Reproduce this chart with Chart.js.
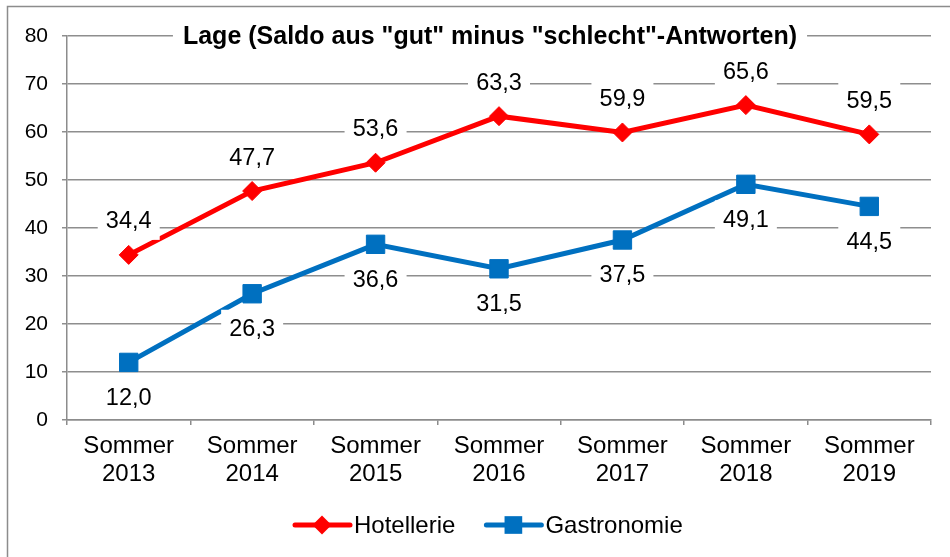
<!DOCTYPE html>
<html><head><meta charset="utf-8">
<script src="https://cdn.jsdelivr.net/npm/chart.js@4.4.0/dist/chart.umd.min.js"></script>
<style>html,body{margin:0;padding:0;background:#fff}#wrap{width:950px;height:557px;position:relative}</style>
</head><body><div id="wrap"><canvas id="c" width="950" height="557"></canvas></div>
<script>
const categories = [["Sommer","2013"],["Sommer","2014"],["Sommer","2015"],["Sommer","2016"],["Sommer","2017"],["Sommer","2018"],["Sommer","2019"]];
const hotellerie = [34.4, 47.7, 53.6, 63.3, 59.9, 65.6, 59.5];
const gastronomie = [12.0, 26.3, 36.6, 31.5, 37.5, 49.1, 44.5];
const seriesNames = ["Hotellerie", "Gastronomie"];
const titleText = 'Lage (Saldo aus "gut" minus "schlecht"-Antworten)';
const yMin = 0, yMax = 80, yStep = 10;

const FONT = '"Liberation Sans", Arial, sans-serif';
const RED = '#ff0000', BLUE = '#0070c0';

function marker(ctx, style, x, y, r, color){
  ctx.save();
  ctx.fillStyle = color;
  ctx.beginPath();
  if (style === 'rectRot') {
    ctx.moveTo(x - r, y); ctx.lineTo(x, y - r); ctx.lineTo(x + r, y); ctx.lineTo(x, y + r);
  } else {
    const s = r * Math.SQRT1_2;
    ctx.rect(x - s, y - s, 2 * s, 2 * s);
  }
  ctx.closePath(); ctx.fill();
  ctx.restore();
}

const decor = {
  id: 'decor',
  beforeDraw(chart){
    const ctx = chart.ctx;
    ctx.save();
    ctx.fillStyle = '#fff'; ctx.fillRect(0, 0, chart.width, chart.height);
    ctx.strokeStyle = '#8c8c8c'; ctx.lineWidth = 1.5;
    ctx.beginPath(); ctx.moveTo(7.5, chart.height + 5); ctx.lineTo(7.5, 6.5); ctx.lineTo(chart.width + 5, 6.5); ctx.stroke();
    ctx.restore();
  },
  afterDatasetsDraw(chart){
    const ctx = chart.ctx;
    chart.data.datasets.forEach((ds, di) => {
      const meta = chart.getDatasetMeta(di);
      meta.data.forEach((pt, i) => {
        const txt = ds.data[i].toFixed(1).replace('.', ',');
        const y = pt.y + (di === 0 ? -34 : 35);
        ctx.save();
        ctx.font = '23.5px ' + FONT;
        ctx.fillStyle = '#fff'; ctx.fillRect(pt.x - 31, y - 19, 62, 38);
        ctx.fillStyle = '#000'; ctx.textAlign = 'center'; ctx.textBaseline = 'middle';
        ctx.fillText(txt, pt.x, y + 1);
        ctx.restore();
      });
    });
    const a = chart.chartArea;
    ctx.save();
    ctx.font = 'bold 25px ' + FONT;
    const w = ctx.measureText(titleText).width;
    const cx = (a.left + a.right) / 2 - 9;
    ctx.fillStyle = '#fff'; ctx.fillRect(cx - w / 2 - 10, a.top - 14, w + 20, 28);
    ctx.fillStyle = '#000'; ctx.textAlign = 'center'; ctx.textBaseline = 'middle';
    ctx.fillText(titleText, cx, a.top + 1);
    ctx.restore();
  },
  afterDraw(chart){
    const ctx = chart.ctx;
    ctx.save();
    ctx.font = '24px ' + FONT;
    let x = 295; const y = 525;
    chart.data.datasets.forEach(ds => {
      ctx.strokeStyle = ds.borderColor; ctx.lineWidth = 5; ctx.lineCap = 'round';
      ctx.beginPath(); ctx.moveTo(x, y); ctx.lineTo(x + 55, y); ctx.stroke();
      marker(ctx, ds.pointStyle, x + 27, y, ds.pointStyle === 'rect' ? 12.5 : 9.5, ds.borderColor);
      ctx.fillStyle = '#000'; ctx.textAlign = 'left'; ctx.textBaseline = 'middle';
      ctx.fillText(ds.label, x + 59, y + 1);
      x += 59 + ctx.measureText(ds.label).width + 31;
    });
    ctx.restore();
  }
};

new Chart(document.getElementById('c'), {
  type: 'line',
  data: {
    labels: categories,
    datasets: [
      { label: seriesNames[0], data: hotellerie, borderColor: RED, backgroundColor: RED,
        borderWidth: 5, pointStyle: 'rectRot', pointRadius: 9.5, pointHoverRadius: 9.5,
        pointBorderWidth: 1, pointBorderColor: RED, pointBackgroundColor: RED, tension: 0 },
      { label: seriesNames[1], data: gastronomie, borderColor: BLUE, backgroundColor: BLUE,
        borderWidth: 5, pointStyle: 'rect', pointRadius: 13, pointHoverRadius: 13,
        pointBorderWidth: 1, pointBorderColor: BLUE, pointBackgroundColor: BLUE, tension: 0 }
    ]
  },
  options: {
    responsive: false, animation: false, devicePixelRatio: 1,
    layout: { padding: { top: 36, right: 19, bottom: 57, left: 0 } },
    plugins: { legend: { display: false }, title: { display: false }, tooltip: { enabled: false } },
    scales: {
      x: {
        type: 'category', offset: true,
        grid: { offset: true, drawOnChartArea: false, drawTicks: true, tickLength: 5, color: '#8c8c8c', lineWidth: 1.5 },
        border: { display: true, color: '#8c8c8c', width: 1.5 },
        ticks: { font: { family: FONT, size: 24, lineHeight: 1.17 }, color: '#000', padding: 7, maxRotation: 0, minRotation: 0, autoSkip: false },
        afterFit(s){ s.height = 80; }
      },
      y: {
        min: yMin, max: yMax,
        ticks: { stepSize: yStep, font: { family: FONT, size: 21 }, color: '#000', padding: 14 },
        grid: { color: '#8e8e8e', lineWidth: 1.5, tickLength: 5, drawTicks: true },
        border: { display: true, color: '#8c8c8c', width: 1.5 },
        afterFit(s){ s.width = 67; }
      }
    }
  },
  plugins: [decor]
});
</script>
</body></html>
